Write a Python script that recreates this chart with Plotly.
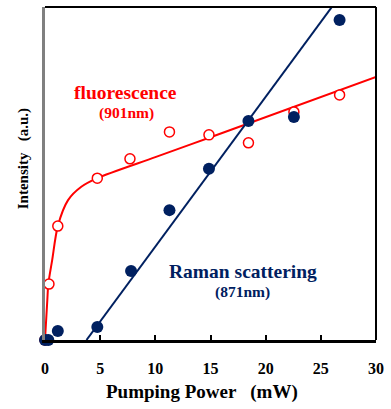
import plotly.graph_objects as go

fluo_x = [0.0, 0.36, 1.16, 4.74, 7.7, 11.28, 14.86, 18.44, 22.56, 26.7]
fluo_y = [0.0, 16.8, 34.2, 48.6, 54.4, 62.5, 61.6, 59.2, 68.5, 73.6]

raman_x = [0.0, 0.3, 1.16, 4.74, 7.8, 11.28, 14.86, 18.44, 22.56, 26.7]
raman_y = [0.0, 0.0, 2.7, 3.9, 20.7, 39.0, 51.4, 65.8, 67.0, 96.1]

# Fit curves
fluo_fit_x = [0.0, 0.21, 0.30, 0.65, 1.16, 2.09, 3.29, 4.74, 10.0, 15.0, 30.0]
fluo_fit_y = [0.0, 12.0, 16.8, 24.0, 34.2, 42.0, 46.0, 48.6, 54.9, 60.9, 79.0]

raman_fit_x = [3.76, 30.0]
raman_fit_y = [0.0, 118.0]

x_ticks = [0, 5, 10, 15, 20, 25, 30]
x_tick_labels = ["0", "5", "10", "15", "20", "25", "30"]

RED = "#ff0000"
NAVY = "#002060"
FONT = "Liberation Serif"

fig = go.Figure()

fig.add_trace(go.Scatter(x=fluo_fit_x, y=fluo_fit_y, mode="lines",
                         line=dict(color=RED, width=2, shape="spline", smoothing=0.8),
                         showlegend=False, hoverinfo="skip"))
fig.add_trace(go.Scatter(x=raman_fit_x, y=raman_fit_y, mode="lines",
                         line=dict(color=NAVY, width=2),
                         showlegend=False, hoverinfo="skip"))
fig.add_trace(go.Scatter(x=fluo_x, y=fluo_y, mode="markers",
                         marker=dict(symbol="circle", size=10, color="white",
                                     line=dict(color=RED, width=1.5)),
                         cliponaxis=False, showlegend=False))
fig.add_trace(go.Scatter(x=raman_x, y=raman_y, mode="markers",
                         marker=dict(symbol="circle", size=12, color=NAVY,
                                     line=dict(width=0)),
                         cliponaxis=False, showlegend=False))


def ann(text, px, py, size, color, angle=0):
    return dict(text="<b>%s</b>" % text, x=(px - 45) / 335, y=(340 - py) / 333,
                xref="paper", yref="paper", showarrow=False,
                xanchor="center", yanchor="middle", textangle=angle,
                font=dict(family=FONT, size=size, color=color))


fig.update_layout(
    width=391, height=409,
    margin=dict(l=45, r=11, t=7, b=69),
    paper_bgcolor="white", plot_bgcolor="white",
    font=dict(family=FONT, color="black"),
    xaxis=dict(range=[0, 30], tickvals=x_ticks, ticktext=x_tick_labels,
               ticks="inside", ticklen=5, tickwidth=2, tickcolor="black",
               showline=True, linecolor="black", linewidth=3,
               showgrid=False, zeroline=False,
               tickfont=dict(family=FONT, size=16, color="black", weight="bold"),
               ticklabelstandoff=12),
    yaxis=dict(range=[0, 100], showticklabels=False, ticks="",
               showline=True, linecolor="#808080", linewidth=3,
               showgrid=False, zeroline=False),
    shapes=[
        dict(type="line", xref="paper", yref="paper", x0=0, x1=1, y0=1, y1=1,
             line=dict(color="black", width=2)),
        dict(type="line", xref="paper", yref="paper", x0=1, x1=1, y0=0, y1=1,
             line=dict(color="black", width=2)),
    ],
    annotations=[
        ann("fluorescence", 126.5, 93, 19.5, RED),
        ann("(901nm)", 127, 113, 15.5, RED),
        ann("Raman scattering", 245, 271, 19.5, NAVY),
        ann("(871nm)", 245, 292, 15.5, NAVY),
        ann("Pumping Power &nbsp; (mW)", 204, 392, 19, "black"),
        ann("Intensity &nbsp; (a.u.)", 23, 159, 15, "black", -90),
    ],
)

fig.write_html("out.html", config={"displayModeBar": False},
               post_script="document.body.style.margin='0';")
